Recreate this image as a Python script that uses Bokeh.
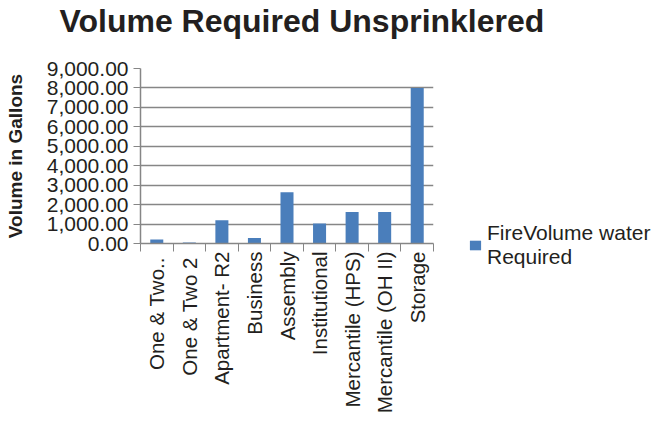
import math
from bokeh.plotting import figure
from bokeh.models import (ColumnDataSource, FixedTicker, NumeralTickFormatter,
                          Range1d, Legend, LegendItem, Title)
from bokeh.embed import file_html
from bokeh.resources import INLINE

categories = ["One  & Two..", "One  & Two 2", "Apartment- R2", "Business",
              "Assembly", "Institutional", "Mercantile (HPS)",
              "Mercantile (OH II)", "Storage"]
volumes = [200, 50, 1200, 280, 2640, 1030, 1620, 1620, 8000]
y_ticks = [0, 1000, 2000, 3000, 4000, 5000, 6000, 7000, 8000, 9000]
series_name = "FireVolume water\nRequired"
title_text = "Volume Required Unsprinklered"
y_title = "Volume in Gallons"

n = len(categories)
centers = [i + 0.5 for i in range(n)]
bounds = [float(i) for i in range(n + 1)]

TXT = "#231f20"
GRID = "#868686"
BAR = "#4A7EBB"
FONT = "Liberation Sans"

p = figure(frame_width=293, frame_height=175, output_backend="svg",
           toolbar_location=None,
           x_range=Range1d(0, n), y_range=Range1d(0, 9000),
           min_border_left=140, min_border_right=212,
           min_border_top=68, min_border_bottom=172)
p.title = None
p.outline_line_color = None
p.background_fill_color = "white"
p.border_fill_color = "white"

src = ColumnDataSource(dict(x=centers, top=volumes, name=categories))
r = p.vbar(x="x", top="top", width=0.4, source=src, fill_color=BAR,
           line_color=None)

# spacer between frame and title, then the title itself
spacer = Title(text=" ", standoff=27, text_font_size="1px")
main_title = Title(text=title_text, text_font=FONT, text_font_size="32px",
                   text_font_style="bold", text_color=TXT, align="left",
                   offset=-81, standoff=0)
p.add_layout(spacer, "above")
p.add_layout(main_title, "above")

# x axis
xa = p.xaxis[0]
xa.ticker = FixedTicker(ticks=centers, minor_ticks=bounds)
xa.major_label_overrides = {c: lab for c, lab in zip(centers, categories)}
xa.major_label_orientation = math.pi / 2
xa.major_tick_out = 0
xa.major_tick_in = 0
xa.minor_tick_out = 8
xa.minor_tick_in = 0
xa.minor_tick_line_color = GRID
xa.axis_line_color = GRID
xa.axis_line_width = 1.5
xa.major_label_text_font = FONT
xa.major_label_text_font_size = "20.5px"
xa.major_label_text_color = TXT
xa.major_label_standoff = 0

# y axis
ya = p.yaxis[0]
ya.ticker = FixedTicker(ticks=y_ticks, minor_ticks=[])
ya.formatter = NumeralTickFormatter(format="0,0.00")
ya.major_tick_out = 7
ya.major_tick_in = 0
ya.major_tick_line_color = GRID
ya.axis_line_color = GRID
ya.axis_line_width = 1.5
ya.major_label_text_font = FONT
ya.major_label_text_font_size = "21px"
ya.major_label_text_color = TXT
ya.major_label_standoff = 5
ya.axis_label = y_title
ya.axis_label_text_font = FONT
ya.axis_label_text_font_size = "19px"
ya.axis_label_text_font_style = "bold"
ya.axis_label_text_color = TXT
ya.axis_label_standoff = 18

p.xgrid.visible = False
p.ygrid.grid_line_color = GRID
p.ygrid.grid_line_width = 1.5
p.ygrid.ticker = FixedTicker(ticks=y_ticks)

legend = Legend(items=[LegendItem(label=series_name, renderers=[r])],
                location=(35, -26), orientation="vertical")
legend.border_line_color = None
legend.background_fill_alpha = 0
legend.padding = 0
legend.margin = 0
legend.glyph_width = 14
legend.glyph_height = 12
legend.label_standoff = 5
legend.label_text_font = FONT
legend.label_text_font_size = "21px"
legend.label_text_color = TXT
legend.label_text_line_height = 1.24
p.add_layout(legend, "right")

open("out.html", "w").write(file_html(p, INLINE))
